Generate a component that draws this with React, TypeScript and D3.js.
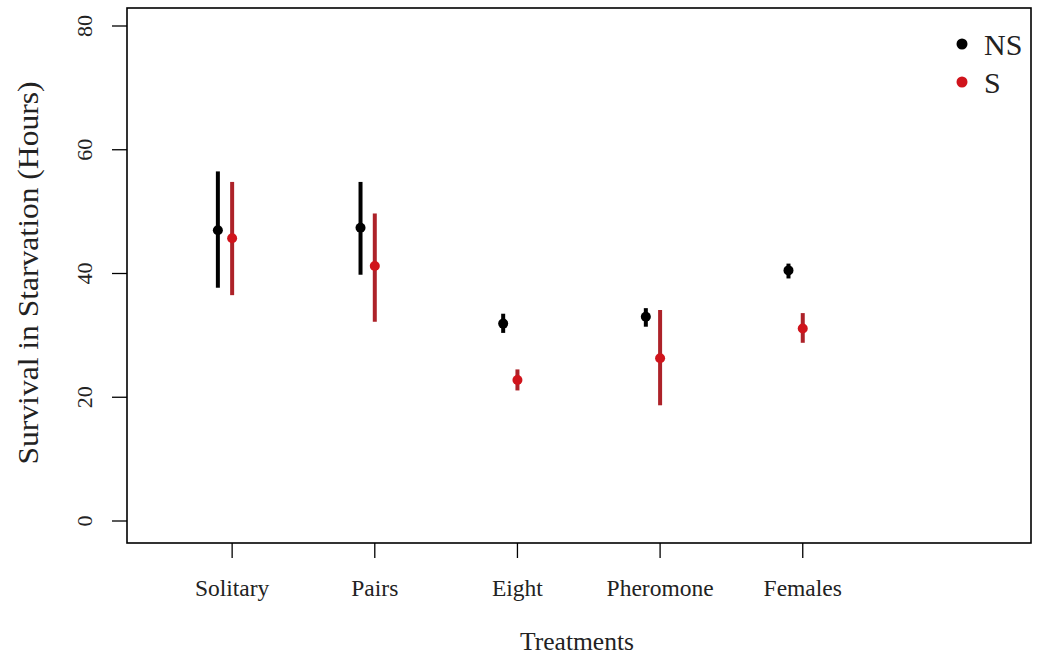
import React from "react";
import * as d3 from "d3";

const treatments = ["Solitary", "Pairs", "Eight", "Pheromone", "Females"];
const yTicks = [0, 20, 40, 60, 80];

// Survival means and interval bounds (hours)
const nsMean = [47.0, 47.4, 31.9, 33.0, 40.5];
const nsLow = [37.7, 39.8, 30.4, 31.4, 39.2];
const nsHigh = [56.5, 54.8, 33.5, 34.4, 41.6];

const sMean = [45.7, 41.2, 22.8, 26.3, 31.1];
const sLow = [36.5, 32.2, 21.1, 18.7, 28.8];
const sHigh = [54.8, 49.7, 24.5, 34.1, 33.6];

const legendLabels = ["NS", "S"];

const W = 1044;
const H = 659;
const left = 127;
const right = 1031;
const top = 8;
const bottom = 543;
const font = "'Liberation Serif', 'Times New Roman', serif";

export default function App() {
  const x = d3.scaleLinear().domain([0.263, 6.6]).range([left, right]);
  const y = d3.scaleLinear().domain([0, 80]).range([521, 26]);

  const series = [
    { name: "NS", mean: nsMean, low: nsLow, high: nsHigh, offset: -0.1, line: "#000000", dot: "#000000" },
    { name: "S", mean: sMean, low: sLow, high: sHigh, offset: 0, line: "#ad2229", dot: "#d0141c" },
  ];

  return (
    <svg width={W} height={H} style={{ position: "absolute", left: 0, top: 0, background: "#fff" }}>
      <rect x={0} y={0} width={W} height={H} fill="#fff" />
      {/* intervals and means */}
      {series.map((s) =>
        treatments.map((t, i) => {
          const cx = x(i + 1 + s.offset);
          return (
            <g key={s.name + t}>
              <line x1={cx} x2={cx} y1={y(s.low[i])} y2={y(s.high[i])} stroke={s.line} strokeWidth={4} />
              <circle cx={cx} cy={y(s.mean[i])} r={5} fill={s.dot} />
            </g>
          );
        })
      )}
      {/* plot frame */}
      <rect x={left} y={top} width={right - left} height={bottom - top} fill="none" stroke="#000" strokeWidth={1.6} />
      {/* y axis */}
      {yTicks.map((v) => (
        <g key={v}>
          <line x1={left - 15} x2={left} y1={y(v)} y2={y(v)} stroke="#000" strokeWidth={1.3} />
          <text
            transform={`translate(${left - 35},${y(v)}) rotate(-90)`}
            textAnchor="middle"
            fontFamily={font}
            fontSize={22}
            fill="#222"
          >
            {v}
          </text>
        </g>
      ))}
      {/* x axis */}
      {treatments.map((t, i) => (
        <g key={t}>
          <line x1={x(i + 1)} x2={x(i + 1)} y1={bottom} y2={bottom + 15} stroke="#000" strokeWidth={1.3} />
          <text x={x(i + 1)} y={596} textAnchor="middle" fontFamily={font} fontSize={23.5} fill="#222">
            {t}
          </text>
        </g>
      ))}
      <text
        x={577}
        y={650}
        textAnchor="middle"
        fontFamily={font}
        fontSize={26}
        textLength={114}
        lengthAdjust="spacingAndGlyphs"
        fill="#222"
      >
        Treatments
      </text>
      <text
        transform={`translate(38,273) rotate(-90)`}
        textAnchor="middle"
        fontFamily={font}
        fontSize={29}
        textLength={383}
        lengthAdjust="spacingAndGlyphs"
        fill="#222"
      >
        Survival in Starvation (Hours)
      </text>
      {/* legend */}
      {legendLabels.map((l, i) => (
        <g key={l}>
          <circle cx={962} cy={44 + i * 38} r={5.5} fill={series[i].dot} />
          <text x={984} y={55 + i * 38} fontFamily={font} fontSize={30} fill="#222">
            {l}
          </text>
        </g>
      ))}
    </svg>
  );
}
